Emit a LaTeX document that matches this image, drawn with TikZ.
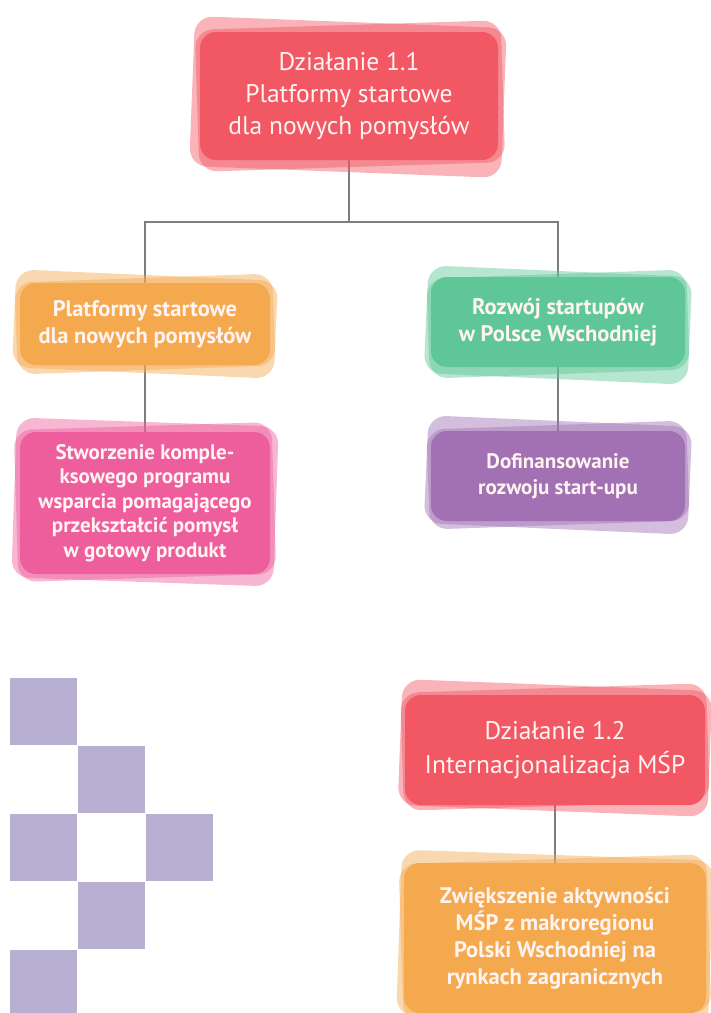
\documentclass[tikz,border=0pt]{standalone}
\usepackage{fontspec}
\setmainfont{PT Sans}
\pgfdeclarelayer{bg}
\pgfdeclarelayer{lines}
\pgfsetlayers{bg,lines,main}
\definecolor{cred}{HTML}{F25764}
\definecolor{corange}{HTML}{F5A94F}
\definecolor{cpink}{HTML}{EE5E9C}
\definecolor{cgreen}{HTML}{5FC797}
\definecolor{cpurple}{HTML}{A171B4}
\definecolor{csquare}{HTML}{B7B0D3}
\definecolor{cline}{HTML}{7E7E7E}
\definecolor{ctext}{HTML}{FFF4F2}
\tikzset{
  x=1pt, y=-1pt,
  mainbox/.style={fill=#1, rounded corners=16pt, inner sep=0pt, align=center, text=ctext},
  backbox/.style={fill=#1, fill opacity=0.45, rounded corners=18pt, inner sep=0pt},
  conn/.style={draw=cline, line width=1.6pt},
  sq/.style={fill=csquare, draw=none},
  bigtxt/.style={font=\fontsize{25.5}{32}\selectfont},
  midtxt/.style={font=\fontsize{22.5}{27}\selectfont\bfseries},
  smalltxt/.style={font=\fontsize{21}{24.5}\selectfont\bfseries}
}
\begin{document}
\begin{tikzpicture}
\useasboundingbox (0,0) rectangle (711,1013);
\clip (0,0) rectangle (711,1013);
\begin{pgfonlayer}{bg}
\fill[white] (0,0) rectangle (711,1013);
\end{pgfonlayer}

% back layers
\node[backbox=cred, minimum width=312pt, minimum height=150pt, rotate=-2.2] (tb1) at (348,97) {};
\node[backbox=cred, minimum width=306pt, minimum height=142pt, rotate=1.8] (tb2) at (350,96) {};
\node[backbox=corange, minimum width=262pt, minimum height=98pt, rotate=-2.5] (ob1) at (145,324) {};
\node[backbox=corange, minimum width=258pt, minimum height=92pt, rotate=2] (ob2) at (145,324) {};
\node[backbox=cpink, minimum width=262pt, minimum height=160pt, rotate=-2] (pb1) at (145,502) {};
\node[backbox=cpink, minimum width=258pt, minimum height=152pt, rotate=1.8] (pb2) at (145,502) {};
\node[backbox=cgreen, minimum width=264pt, minimum height=108pt, rotate=-2.5] (gb1) at (558,325) {};
\node[backbox=cgreen, minimum width=260pt, minimum height=100pt, rotate=2] (gb2) at (558,324) {};
\node[backbox=cpurple, minimum width=264pt, minimum height=108pt, rotate=-2.5] (ub1) at (558,475) {};
\node[backbox=cpurple, minimum width=260pt, minimum height=100pt, rotate=2] (ub2) at (558,475) {};
\node[backbox=cred, minimum width=310pt, minimum height=126pt, rotate=-2.2] (rb1) at (555,748) {};
\node[backbox=cred, minimum width=306pt, minimum height=118pt, rotate=1.8] (rb2) at (555,747) {};
\node[backbox=corange, minimum width=312pt, minimum height=166pt, rotate=-2] (qb1) at (555,938) {};
\node[backbox=corange, minimum width=308pt, minimum height=158pt, rotate=1.8] (qb2) at (555,938) {};

% main boxes
\node[mainbox=cred, bigtxt, minimum width=298pt, minimum height=128pt] (t) at (349,96)
  {Działanie 1.1\\Platformy startowe\\dla nowych pomysłów};
\node[mainbox=corange, midtxt, minimum width=250pt, minimum height=82pt] (o) at (145,324)
  {Platformy startowe\\dla nowych pomysłów};
\node[mainbox=cpink, smalltxt, minimum width=250pt, minimum height=142pt] (p) at (145,503)
  {Stworzenie komple-\\ksowego programu\\wsparcia pomagającego\\przekształcić pomysł\\w gotowy produkt};
\node[mainbox=cgreen, midtxt, minimum width=254pt, minimum height=90pt] (g) at (558,322)
  {Rozwój startupów\\w Polsce Wschodniej};
\node[mainbox=cpurple, font=\fontsize{21}{26}\selectfont\bfseries, minimum width=254pt, minimum height=90pt] (u) at (558,476)
  {Dofinansowanie\\rozwoju start-upu};
\node[mainbox=cred, font=\fontsize{25.5}{34}\selectfont, minimum width=300pt, minimum height=110pt] (r) at (555,750)
  {Działanie 1.2\\Internacjonalizacja MŚP};
\node[mainbox=corange, midtxt, minimum width=302pt, minimum height=150pt] (q) at (555,938)
  {Zwiększenie aktywności\\MŚP z makroregionu\\Polski Wschodniej na\\rynkach zagranicznych};

% connectors
\coordinate (j) at (349,222);
\begin{pgfonlayer}{lines}
\draw[conn] (t) -- (j);
\draw[conn] (o.center) |- (j) -| (g.center);
\draw[conn] (o) -- (p);
\draw[conn] (g) -- (u);
\draw[conn] (r) -- (q);
\end{pgfonlayer}

% squares
\fill[sq] (10,678) rectangle (77,745);
\fill[sq] (78,746) rectangle (145,813);
\fill[sq] (10,814) rectangle (77,881);
\fill[sq] (146,814) rectangle (213,881);
\fill[sq] (78,882) rectangle (145,949);
\fill[sq] (10,950) rectangle (77,1013);
\end{tikzpicture}
\end{document}
